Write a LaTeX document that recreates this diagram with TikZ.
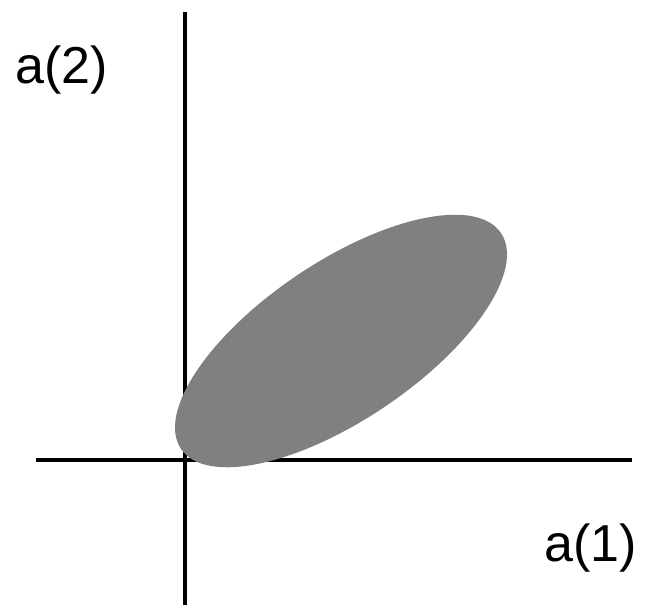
\documentclass[tikz,border=0pt]{standalone}
\usepackage{fontspec}
\setmainfont{Liberation Sans}
\begin{document}
\begin{tikzpicture}[x=1pt,y=-1pt,
  axisline/.style={line width=3.5pt,black},
  blob/.style={fill={rgb,255:red,128;green,128;blue,128},draw=none},
  lbl/.style={font=\fontsize{52}{60}\selectfont,inner sep=0pt,anchor=base west}]
\useasboundingbox (0,0) rectangle (645,610);
\coordinate (xl) at (36,460);
\coordinate (xr) at (632,460);
\coordinate (yt) at (185,12);
\coordinate (yb) at (185,605);
\draw[axisline] (xl) -- (xr);
\draw[axisline] (yt) -- (yb);
\fill[blob] (341,341) ellipse[x radius=193, y radius=79, rotate=34];
\node[lbl] (a2) at (15,84) {a(2)};
\node[lbl] (a1) at (544,561) {a(1)};
\end{tikzpicture}
\end{document}
